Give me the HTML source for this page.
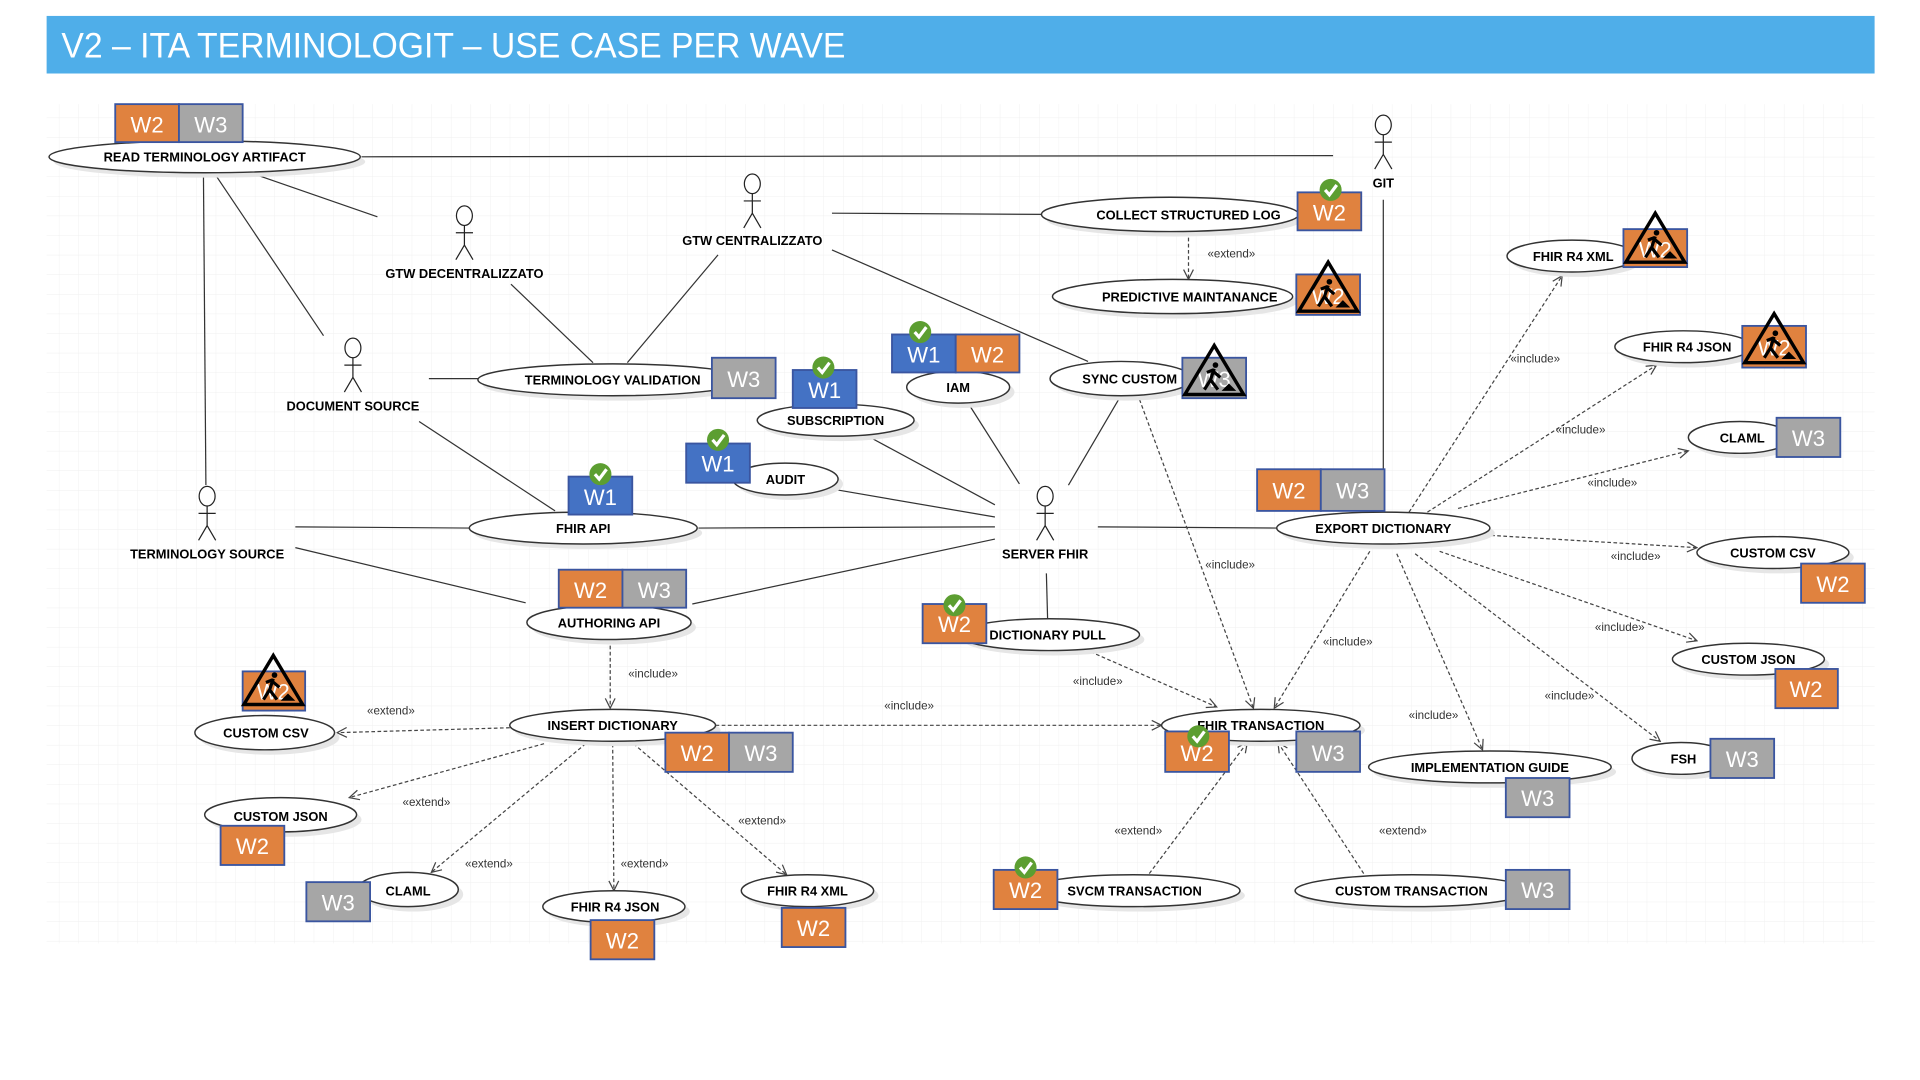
<!DOCTYPE html>
<html><head><meta charset="utf-8"><style>
html,body{margin:0;padding:0;background:#fff;}
svg{display:block;}
.l{font-family:"Liberation Sans",sans-serif;font-weight:bold;font-size:10.5px;fill:#000;text-anchor:middle;}
.s{font-family:"Liberation Sans",sans-serif;font-size:9.5px;fill:#333;text-anchor:middle;}
.b{font-family:"Liberation Sans",sans-serif;font-size:18px;fill:#fff;text-anchor:middle;}
.ln{stroke:#333;stroke-width:1;fill:none;}
.da{stroke:#444;stroke-width:1;stroke-dasharray:3,2;fill:none;marker-end:url(#ar);}
.e{fill:#fff;stroke:#333;stroke-width:1.2;}
.sh{fill:#e6e6e6;}
.o{fill:#E0823F;stroke:#3A55A0;stroke-width:1.5;}
.g{fill:#A6A6A6;stroke:#3A55A0;stroke-width:1.5;}
.bl{fill:#4472C4;stroke:#3A55A0;stroke-width:1.5;}
.ac{stroke:#222;stroke-width:1;fill:#fff;}
</style></head><body>
<svg width="1920" height="1080" viewBox="0 0 1567 881.5" xmlns="http://www.w3.org/2000/svg">
<defs>
<marker id="ar" markerWidth="10" markerHeight="10" refX="9" refY="5" orient="auto" markerUnits="userSpaceOnUse">
<path d="M1,1 L9,5 L1,9" fill="none" stroke="#444" stroke-width="1"/></marker>
<pattern id="grid" width="16" height="16" patternUnits="userSpaceOnUse">
<path d="M16 0 L0 0 0 16" fill="none" stroke="#efefef" stroke-width="0.7"/></pattern>
<g id="chk"><circle r="9" fill="#5C9E31"/><path d="M-4.5,0 L-1,4 L5,-4" stroke="#fff" stroke-width="2.6" fill="none"/></g>
<g id="con"><path d="M0,-22 L-24,18 L24,18 Z" fill="none" stroke="#000" stroke-width="2.8"/>
<circle cx="1" cy="-6" r="2.3" fill="#000"/><path d="M0,-3 L-3,6 L-8,14 M-3,6 L3,14 M-1,-1 L5,4 M-6,0 L-1,-2" stroke="#000" stroke-width="2.6" fill="none"/><path d="M6,15 L12,9 L18,15 Z" fill="#000"/></g>
</defs>
<rect x="38" y="85" width="1492" height="685" fill="url(#grid)"/>
<rect x="38" y="13" width="1492" height="47" fill="#4FAEE9"/>
<text x="50" y="47" font-family="'Liberation Sans',sans-serif" font-size="29" fill="#fff" textLength="640" lengthAdjust="spacingAndGlyphs">V2 – ITA TERMINOLOGIT – USE CASE PER WAVE</text>

<g class="ln">
<path d="M295,128 L1088,127"/>
<path d="M210,143 L308,177"/>
<path d="M176,143 L264,274"/>
<path d="M166,143 L168,396"/>
<path d="M679,174 L853,175"/>
<path d="M679,204 L888,295"/>
<path d="M586,208 L512,296"/>
<path d="M417,232 L484,296"/>
<path d="M350,309 L390,309"/>
<path d="M342,344 L453,417"/>
<path d="M241,430 L383,431"/>
<path d="M241,447 L429,492"/>
<path d="M570,431 L812,430"/>
<path d="M565,493 L812,440"/>
<path d="M684,400 L812,422"/>
<path d="M712,358 L812,412"/>
<path d="M792,332 L832,395"/>
<path d="M913,326 L872,396"/>
<path d="M896,430 L1042,431"/>
<path d="M854,468 L855,505"/>
<path d="M1129,163 L1129,384"/>
</g>

<g class="da">
<path d="M970,189 L970,228"/>
<path d="M930,326 L1023,578"/>
<path d="M1150,418 L1275,225"/>
<path d="M1165,418 L1352,298"/>
<path d="M1190,415 L1378,368"/>
<path d="M1217,437 L1385,447"/>
<path d="M1175,450 L1385,523"/>
<path d="M1155,452 L1355,605"/>
<path d="M1140,452 L1210,612"/>
<path d="M1118,450 L1040,578"/>
<path d="M890,532 L993,577"/>
<path d="M498,522 L498,578"/>
<path d="M584,592 L948,592"/>
<path d="M416,594 L275,598"/>
<path d="M444,607 L285,651"/>
<path d="M478,607 L352,712"/>
<path d="M500,607 L501,727"/>
<path d="M517,607 L642,714"/>
<path d="M938,713 L1018,606"/>
<path d="M1113,713 L1043,606"/>
</g>
<g class="s">
<text x="1005" y="210">«extend»</text>
<text x="1004" y="464">«include»</text>
<text x="1253" y="296">«include»</text>
<text x="1290" y="354">«include»</text>
<text x="1316" y="397">«include»</text>
<text x="1335" y="457">«include»</text>
<text x="1322" y="515">«include»</text>
<text x="1281" y="571">«include»</text>
<text x="1170" y="587">«include»</text>
<text x="1100" y="527">«include»</text>
<text x="896" y="559">«include»</text>
<text x="533" y="553">«include»</text>
<text x="742" y="579">«include»</text>
<text x="319" y="583">«extend»</text>
<text x="348" y="658">«extend»</text>
<text x="399" y="708">«extend»</text>
<text x="526" y="708">«extend»</text>
<text x="622" y="673">«extend»</text>
<text x="929" y="681">«extend»</text>
<text x="1145" y="681">«extend»</text>
</g>

<g>
<ellipse class="sh" cx="171" cy="132" rx="127" ry="13"/><ellipse class="e" cx="167" cy="128" rx="127" ry="13"/>
<ellipse class="sh" cx="959" cy="179" rx="105" ry="14"/><ellipse class="e" cx="955" cy="175" rx="105" ry="14"/>
<ellipse class="sh" cx="961" cy="246" rx="98" ry="14"/><ellipse class="e" cx="957" cy="242" rx="98" ry="14"/>
<ellipse class="sh" cx="919" cy="313" rx="58" ry="14"/><ellipse class="e" cx="915" cy="309" rx="58" ry="14"/>
<ellipse class="sh" cx="1287" cy="213" rx="53" ry="13"/><ellipse class="e" cx="1283" cy="209" rx="53" ry="13"/>
<ellipse class="sh" cx="1378" cy="287" rx="56" ry="13"/><ellipse class="e" cx="1374" cy="283" rx="56" ry="13"/>
<ellipse class="sh" cx="1424" cy="361" rx="42" ry="13"/><ellipse class="e" cx="1420" cy="357" rx="42" ry="13"/>
<ellipse class="sh" cx="1451" cy="455" rx="62" ry="13"/><ellipse class="e" cx="1447" cy="451" rx="62" ry="13"/>
<ellipse class="sh" cx="1431" cy="542" rx="62" ry="13"/><ellipse class="e" cx="1427" cy="538" rx="62" ry="13"/>
<ellipse class="sh" cx="1376" cy="623" rx="40" ry="13"/><ellipse class="e" cx="1372" cy="619" rx="40" ry="13"/>
<ellipse class="sh" cx="1220" cy="630" rx="99" ry="13"/><ellipse class="e" cx="1216" cy="626" rx="99" ry="13"/>
<ellipse class="sh" cx="1157" cy="731" rx="96" ry="13"/><ellipse class="e" cx="1153" cy="727" rx="96" ry="13"/>
<ellipse class="sh" cx="929" cy="731" rx="87" ry="13"/><ellipse class="e" cx="925" cy="727" rx="87" ry="13"/>
<ellipse class="sh" cx="1033" cy="596" rx="81" ry="13"/><ellipse class="e" cx="1029" cy="592" rx="81" ry="13"/>
<ellipse class="sh" cx="1133" cy="435" rx="87" ry="13"/><ellipse class="e" cx="1129" cy="431" rx="87" ry="13"/>
<ellipse class="sh" cx="860" cy="522" rx="74" ry="13"/><ellipse class="e" cx="856" cy="518" rx="74" ry="13"/>
<ellipse class="sh" cx="786" cy="320" rx="42" ry="13"/><ellipse class="e" cx="782" cy="316" rx="42" ry="13"/>
<ellipse class="sh" cx="686" cy="347" rx="64" ry="13"/><ellipse class="e" cx="682" cy="343" rx="64" ry="13"/>
<ellipse class="sh" cx="645" cy="395" rx="43" ry="13"/><ellipse class="e" cx="641" cy="391" rx="43" ry="13"/>
<ellipse class="sh" cx="480" cy="435" rx="93" ry="13"/><ellipse class="e" cx="476" cy="431" rx="93" ry="13"/>
<ellipse class="sh" cx="504" cy="314" rx="110" ry="13"/><ellipse class="e" cx="500" cy="310" rx="110" ry="13"/>
<ellipse class="sh" cx="501" cy="512" rx="67" ry="14"/><ellipse class="e" cx="497" cy="508" rx="67" ry="14"/>
<ellipse class="sh" cx="504" cy="596" rx="84" ry="13"/><ellipse class="e" cx="500" cy="592" rx="84" ry="13"/>
<ellipse class="sh" cx="220" cy="602" rx="57" ry="14"/><ellipse class="e" cx="216" cy="598" rx="57" ry="14"/>
<ellipse class="sh" cx="233" cy="669" rx="62" ry="14"/><ellipse class="e" cx="229" cy="665" rx="62" ry="14"/>
<ellipse class="sh" cx="337" cy="730" rx="41" ry="14"/><ellipse class="e" cx="333" cy="726" rx="41" ry="14"/>
<ellipse class="sh" cx="505" cy="744" rx="58" ry="13"/><ellipse class="e" cx="501" cy="740" rx="58" ry="13"/>
<ellipse class="sh" cx="663" cy="731" rx="54" ry="13"/><ellipse class="e" cx="659" cy="727" rx="54" ry="13"/>
</g>
<g class="l">
<text x="167" y="132">READ TERMINOLOGY ARTIFACT</text>
<text x="970" y="179">COLLECT STRUCTURED LOG</text>
<text x="971" y="246">PREDICTIVE MAINTANANCE</text>
<text x="922" y="313">SYNC CUSTOM</text>
<text x="1284" y="213">FHIR R4 XML</text>
<text x="1377" y="287">FHIR R4 JSON</text>
<text x="1422" y="361">CLAML</text>
<text x="1447" y="455">CUSTOM CSV</text>
<text x="1427" y="542">CUSTOM JSON</text>
<text x="1374" y="623">FSH</text>
<text x="1216" y="630">IMPLEMENTATION GUIDE</text>
<text x="1152" y="731">CUSTOM TRANSACTION</text>
<text x="926" y="731">SVCM TRANSACTION</text>
<text x="1029" y="596">FHIR TRANSACTION</text>
<text x="1129" y="435">EXPORT DICTIONARY</text>
<text x="855" y="522">DICTIONARY PULL</text>
<text x="782" y="320">IAM</text>
<text x="682" y="347">SUBSCRIPTION</text>
<text x="641" y="395">AUDIT</text>
<text x="476" y="435">FHIR API</text>
<text x="500" y="314">TERMINOLOGY VALIDATION</text>
<text x="497" y="512">AUTHORING API</text>
<text x="500" y="596">INSERT DICTIONARY</text>
<text x="217" y="602">CUSTOM CSV</text>
<text x="229" y="670">CUSTOM JSON</text>
<text x="333" y="731">CLAML</text>
<text x="502" y="744">FHIR R4 JSON</text>
<text x="659" y="731">FHIR R4 XML</text>
</g>

<g class="ac">
<g transform="translate(614,142)"><ellipse cx="0" cy="8" rx="6.5" ry="8"/><path d="M0,16 L0,32 M-7,22 L7,22 M0,32 L-7,44 M0,32 L7,44"/></g>
<g transform="translate(379,168)"><ellipse cx="0" cy="8" rx="6.5" ry="8"/><path d="M0,16 L0,32 M-7,22 L7,22 M0,32 L-7,44 M0,32 L7,44"/></g>
<g transform="translate(288,276)"><ellipse cx="0" cy="8" rx="6.5" ry="8"/><path d="M0,16 L0,32 M-7,22 L7,22 M0,32 L-7,44 M0,32 L7,44"/></g>
<g transform="translate(169,397)"><ellipse cx="0" cy="8" rx="6.5" ry="8"/><path d="M0,16 L0,32 M-7,22 L7,22 M0,32 L-7,44 M0,32 L7,44"/></g>
<g transform="translate(853,397)"><ellipse cx="0" cy="8" rx="6.5" ry="8"/><path d="M0,16 L0,32 M-7,22 L7,22 M0,32 L-7,44 M0,32 L7,44"/></g>
<g transform="translate(1129,94)"><ellipse cx="0" cy="8" rx="6.5" ry="8"/><path d="M0,16 L0,32 M-7,22 L7,22 M0,32 L-7,44 M0,32 L7,44"/></g>
</g>
<g class="l">
<text x="614" y="200">GTW CENTRALIZZATO</text>
<text x="379" y="227">GTW DECENTRALIZZATO</text>
<text x="288" y="335">DOCUMENT SOURCE</text>
<text x="169" y="456">TERMINOLOGY SOURCE</text>
<text x="853" y="456">SERVER FHIR</text>
<text x="1129" y="153">GIT</text>
</g>

<g>
<rect class="o" x="94" y="85" width="52" height="31"/><text class="b" x="120" y="108">W2</text>
<rect class="g" x="146" y="85" width="52" height="31"/><text class="b" x="172" y="108">W3</text>
<rect class="o" x="1059" y="157" width="52" height="31"/><text class="b" x="1085" y="180">W2</text>
<rect class="o" x="1058" y="224" width="52" height="33"/><text class="b" x="1084" y="248">W2</text>
<rect class="g" x="965" y="292" width="52" height="33"/><text class="b" x="991" y="316">W3</text>
<rect class="o" x="1325" y="187" width="52" height="31"/><text class="b" x="1351" y="210">W2</text>
<rect class="o" x="1422" y="266" width="52" height="34"/><text class="b" x="1448" y="290">W2</text>
<rect class="g" x="1450" y="341" width="52" height="32"/><text class="b" x="1476" y="364">W3</text>
<rect class="o" x="1470" y="460" width="52" height="32"/><text class="b" x="1496" y="483">W2</text>
<rect class="o" x="1449" y="546" width="51" height="32"/><text class="b" x="1474" y="569">W2</text>
<rect class="g" x="1396" y="603" width="52" height="32"/><text class="b" x="1422" y="626">W3</text>
<rect class="g" x="1229" y="635" width="52" height="32"/><text class="b" x="1255" y="658">W3</text>
<rect class="g" x="1229" y="710" width="52" height="32"/><text class="b" x="1255" y="733">W3</text>
<rect class="o" x="811" y="710" width="52" height="32"/><text class="b" x="837" y="733">W2</text>
<rect class="o" x="951" y="597" width="52" height="33"/><text class="b" x="977" y="621">W2</text>
<rect class="g" x="1058" y="597" width="52" height="33"/><text class="b" x="1084" y="621">W3</text>
<rect class="o" x="1026" y="383" width="52" height="34"/><text class="b" x="1052" y="407">W2</text>
<rect class="g" x="1078" y="383" width="52" height="34"/><text class="b" x="1104" y="407">W3</text>
<rect class="o" x="753" y="493" width="52" height="32"/><text class="b" x="779" y="516">W2</text>
<rect class="bl" x="728" y="273" width="52" height="31"/><text class="b" x="754" y="296">W1</text>
<rect class="o" x="780" y="273" width="52" height="31"/><text class="b" x="806" y="296">W2</text>
<rect class="bl" x="647" y="302" width="52" height="31"/><text class="b" x="673" y="325">W1</text>
<rect class="bl" x="560" y="362" width="52" height="32"/><text class="b" x="586" y="385">W1</text>
<rect class="bl" x="464" y="389" width="52" height="31"/><text class="b" x="490" y="412">W1</text>
<rect class="g" x="581" y="292" width="52" height="33"/><text class="b" x="607" y="316">W3</text>
<rect class="o" x="456" y="465" width="52" height="31"/><text class="b" x="482" y="488">W2</text>
<rect class="g" x="508" y="465" width="52" height="31"/><text class="b" x="534" y="488">W3</text>
<rect class="o" x="543" y="598" width="52" height="32"/><text class="b" x="569" y="621">W2</text>
<rect class="g" x="595" y="598" width="52" height="32"/><text class="b" x="621" y="621">W3</text>
<rect class="o" x="198" y="548" width="51" height="32"/><text class="b" x="223" y="571">W2</text>
<rect class="o" x="180" y="674" width="52" height="32"/><text class="b" x="206" y="697">W2</text>
<rect class="g" x="250" y="720" width="52" height="32"/><text class="b" x="276" y="743">W3</text>
<rect class="o" x="482" y="751" width="52" height="32"/><text class="b" x="508" y="774">W2</text>
<rect class="o" x="638" y="741" width="52" height="32"/><text class="b" x="664" y="764">W2</text>
</g>
<use href="#con" x="1084" y="236"/>
<use href="#con" x="991" y="304"/>
<use href="#con" x="1351" y="196"/>
<use href="#con" x="1448" y="278"/>
<use href="#con" x="223" y="557"/>
<use href="#chk" x="1086" y="155"/>
<use href="#chk" x="751" y="271"/>
<use href="#chk" x="672" y="300"/>
<use href="#chk" x="586" y="359"/>
<use href="#chk" x="490" y="387"/>
<use href="#chk" x="779" y="494"/>
<use href="#chk" x="978" y="601"/>
<use href="#chk" x="837" y="708"/>
</svg>
</body></html>
